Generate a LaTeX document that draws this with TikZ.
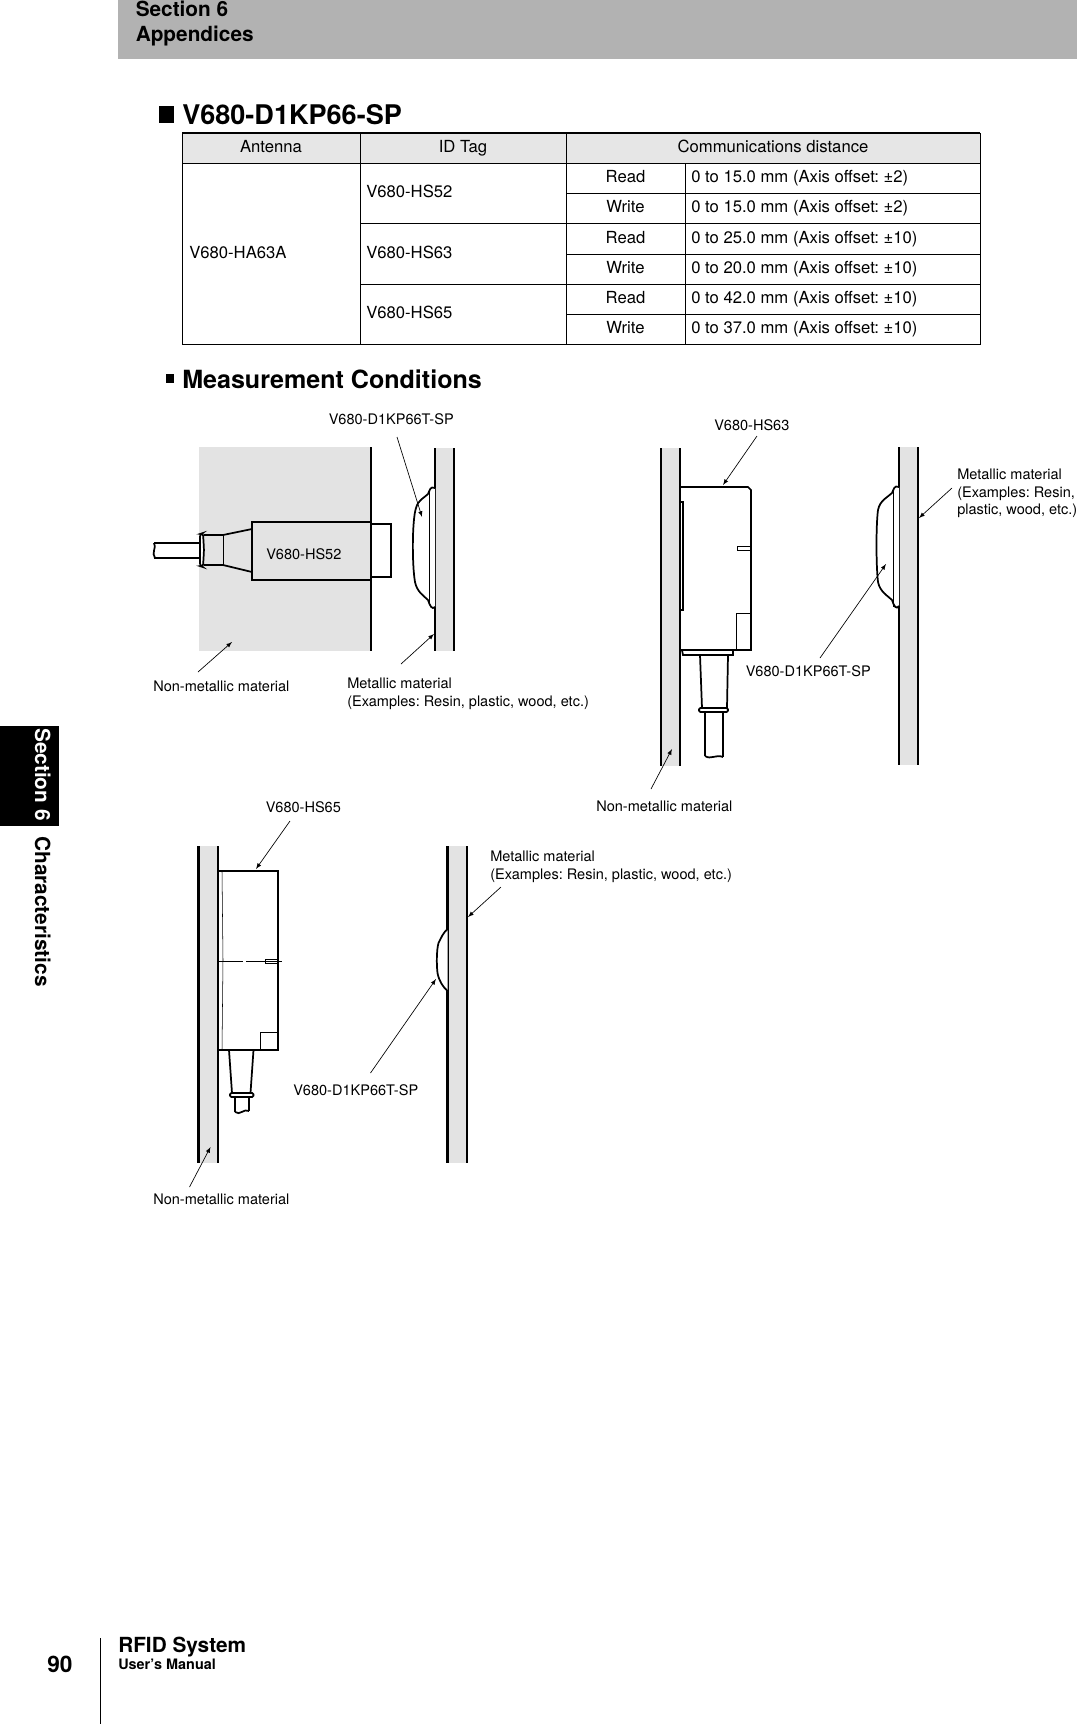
\documentclass[tikz,border=0pt]{standalone}
\usepackage{fontspec}
\setmainfont{TeX Gyre Heros}
\usetikzlibrary{arrows}
\definecolor{bandgray}{HTML}{B2B2B2}
\definecolor{cellgray}{HTML}{E6E6E6}
\definecolor{plategray}{HTML}{E3E3E3}
\tikzstyle{partlabel}=[inner sep=0pt,anchor=base west,font=\fontsize{10.9}{13}\selectfont]
\tikzstyle{longlabel}=[inner sep=0pt,anchor=north west,align=left,font=\fontsize{10.9}{13}\selectfont]
\tikzstyle{cell}=[inner sep=0pt,anchor=base west,font=\fontsize{12.5}{15}\selectfont]
\tikzstyle{headcell}=[inner sep=0pt,anchor=base,font=\fontsize{12.5}{15}\selectfont]
\tikzstyle{heading}=[inner sep=0pt,anchor=base west,font=\fontsize{20.3}{24}\selectfont\bfseries]
\tikzstyle{boldtext}=[inner sep=0pt,font=\fontsize{15.6}{18}\selectfont\bfseries]
\tikzstyle{tablerule} = [draw,line width=0.55pt]
\tikzstyle{heavy} = [draw,line width=1.7pt]
\tikzstyle{contour} = [draw,line width=1.3pt]
\tikzstyle{fine} = [draw,line width=0.4pt]
\tikzstyle{leader} = [draw,line width=0.5pt,-latex]

\begin{document}
\frenchspacing
\begin{tikzpicture}[x=0.75pt,y=-0.75pt]
    \useasboundingbox (0,0) rectangle (1077,1724);

    % page furniture
    \fill[bandgray] (118,0) rectangle (1077,59);
    \fill[black] (0,726) rectangle (59,826);
    \draw[line width=0.7pt] (100,1638) -- (100,1724);
    \node[boldtext,anchor=base west] (section) at (135.5,16) {Section 6};
    \node[boldtext,anchor=base west] (appendices) at (135.5,41) {Appendices};
    \node[boldtext,anchor=base west,rotate=-90,text=white] (tabsection) at (35,728) {Section 6};
    \node[boldtext,anchor=base west,rotate=-90] (tabchar) at (35,836) {Characteristics};
    \node[boldtext,anchor=base west,font=\fontsize{17}{20}\selectfont\bfseries] (pagenum) at (47,1672) {90};
    \node[boldtext,anchor=base west] (rfid) at (118,1652) {RFID System};
    \node[boldtext,anchor=base west,font=\fontsize{10.8}{13}\selectfont\bfseries] (manual) at (118,1669) {User's Manual};

    % headings
    \fill[black] (159,106) rectangle (174,123);
    \fill[black] (166,374) rectangle (174,383);
    \node[heading] (title) at (182,124) {V680-D1KP66-SP};
    \node[heading,font=\fontsize{18.8}{22}\selectfont\bfseries] (conditions) at (182,388) {Measurement Conditions};

    % table
    \fill[cellgray] (182,133) rectangle (980,163);
    \path[tablerule] (182,163) rectangle (980,344);
    \path[draw,line width=1.1pt] (182,133) -- (980,133);
    \foreach \xpos in {182,360,566,980}
        \path[tablerule] (\xpos,133) -- (\xpos,344);
    \path[tablerule] (685.5,163) -- (685.5,344);
    \foreach \ypos in {223,284}
        \path[tablerule] (360,\ypos) -- (980,\ypos);
    \foreach \ypos in {193,254,314}
        \path[tablerule] (566,\ypos) -- (980,\ypos);
    \foreach \name/\xpos/\txt in {hant/271/Antenna, hid/463/ID Tag, hdist/773/Communications distance}
        \node[headcell] (\name) at (\xpos,152) {\txt};
    \node[cell] (antenna) at (189,258) {V680-HA63A};
    \foreach \name/\ypos/\txt in {tag1/197/V680-HS52, tag2/258/V680-HS63, tag3/318/V680-HS65}
        \node[cell] (\name) at (366,\ypos) {\txt};
    \foreach \name/\ypos/\mode/\txt in {r1/182/Read/0 to 15.0 mm (Axis offset: ±2), r2/212/Write/0 to 15.0 mm (Axis offset: ±2), r3/243/Read/0 to 25.0 mm (Axis offset: ±10), r4/273/Write/0 to 20.0 mm (Axis offset: ±10), r5/303/Read/0 to 42.0 mm (Axis offset: ±10), r6/333/Write/0 to 37.0 mm (Axis offset: ±10)} {
        \node[headcell] (\name mode) at (625.5,\ypos) {\mode};
        \node[cell] (\name) at (691,\ypos) {\txt};
    }

    % plates
    \fill[plategray] (199,447) rectangle (371,651);
    \path[heavy] (371,447) -- (371,651);
    \foreach \xa/\xb/\ya/\yb in {435/454/448/651, 661/680/448/766, 899/918/447/765, 198.5/218/846/1163, 447.5/467/846/1163} {
        \fill[plategray] (\xa,\ya) rectangle (\xb,\yb);
        \path[heavy] (\xa,\ya) -- (\xa,\yb);
        \path[heavy] (\xb,\ya) -- (\xb,\yb);
    }

    % HS52 sensor
    \path[contour] (371,524) -- (391,524) -- (391,577) -- (371,577);
    \path[heavy] (252,522) rectangle (371,580);
    \path[contour] (252,529) -- (223,535) -- (204,535);
    \path[contour] (252,572) -- (223,565) -- (204,565);
    \path[fine] (223,535) -- (223,565);
    \path[contour] (154,543) -- (200,543);
    \path[contour] (154,558) -- (200,558);
    \path[contour] (154,543) .. controls (157,547) and (151,553) .. (155,558);
    \path[contour,fill=white,rounded corners=2pt] (200,534) -- (203,533) -- (204,550) -- (203,567) -- (200,566) -- cycle;

    % HS63 sensor
    \path[contour] (680,487) -- (748,487) -- (751,490) -- (751,650) -- (680,650);
    \path[contour] (680,502) -- (683,502) -- (683,610) -- (680,610);
    \path[fine] (751,546) -- (737,546) -- (737,550) -- (751,550);
    \path[fine] (751,613) -- (736,613) -- (736,650);
    \path[contour] (682,650) -- (683,655) -- (733,655) -- (733,650);
    \path[contour] (700,655) -- (702,708);
    \path[contour] (728,655) -- (727,708);
    \path[contour,rounded corners=1pt] (699,708) rectangle (728,712);
    \path[contour] (705,712) -- (705,756);
    \path[contour] (723,712) -- (723,757);
    \path[contour] (705,756) .. controls (711,760) and (716,754) .. (723,757);

    % HS65 sensor
    \path[contour] (218,871) -- (278,871) -- (278,1050) -- (218,1050);
    \path[fine] (222,871) -- (223,960) -- (222,1050);
    \path[fine] (218,961) -- (243,961);
    \path[fine] (246,961) -- (282,961);
    \path[fine] (265,959) rectangle (277.5,963);
    \path[fine] (278,1032) -- (260,1032) -- (260,1050);
    \path[contour] (229,1050) -- (232,1093);
    \path[contour] (253.5,1050) -- (250.5,1093);
    \path[contour,rounded corners=1pt] (230,1093) rectangle (253.5,1097);
    \path[contour] (235,1097) -- (235,1112);
    \path[contour] (249,1097) -- (249,1111);
    \path[contour] (235,1112) .. controls (240,1116) and (244,1108) .. (249,1111);

    % tags
    \path[contour,fill=white] (435,488) .. controls (430,486) and (430,490) .. (428,494) .. controls (424,498) and (418,500) .. (416,508) .. controls (412,520) and (412,565) .. (415,582) .. controls (417,592) and (424,596) .. (428,600) .. controls (430,606) and (432,610) .. (435,607);
    \path[fine] (429,492) -- (429,605);
    \path[contour,fill=white] (899,487) .. controls (894,485) and (894,489) .. (892,493) .. controls (888,497) and (880,500) .. (878,510) .. controls (876,525) and (876,565) .. (878,582) .. controls (880,592) and (888,596) .. (892,600) .. controls (894,606) and (896,610) .. (899,606);
    \path[fine] (893,489) -- (893,607);
    \path[contour,fill=white] (447.5,929) .. controls (443,933) and (441,938) .. (438.5,943) .. controls (436.5,950) and (436.5,965) .. (437.5,973) .. controls (439,981) and (443,987) .. (447.5,991);

    % labels
    \node[partlabel] (sensorA) at (266,559) {V680-HS52};
    \node[partlabel] (tagA) at (328.5,424) {V680-D1KP66T-SP};
    \node[partlabel] (nonA) at (153,691) {Non-metallic material};
    \node[longlabel] (metalA) at (347,678) {Metallic material\\(Examples: Resin, plastic, wood, etc.)};
    \node[partlabel] (sensorB) at (714,430) {V680-HS63};
    \node[partlabel] (tagB) at (745.5,676) {V680-D1KP66T-SP};
    \node[partlabel] (nonB) at (596,811) {Non-metallic material};
    \node[longlabel] (metalB) at (957,469) {Metallic material\\(Examples: Resin,\\plastic, wood, etc.)};
    \node[partlabel] (sensorC) at (265.5,812) {V680-HS65};
    \node[partlabel] (tagC) at (293,1095.5) {V680-D1KP66T-SP};
    \node[partlabel] (nonC) at (153,1204.5) {Non-metallic material};
    \node[longlabel] (metalC) at (490,851) {Metallic material\\(Examples: Resin, plastic, wood, etc.)};

    % leader ends
    \foreach \name/\xpos/\ypos in {a1/397/437, a2/422/517, a3/401/664, a4/434/634, a5/198/672, a6/232/642, b1/757/436, b2/723/485, b3/952/488, b4/919/518, b5/820/658, b6/886/564, b7/651/789, b8/672/749, c1/290/821, c2/256/869, c3/501/887, c4/468/917, c5/370.5/1073, c6/436/979, c7/189.5/1187, c8/210.5/1147}
        \coordinate (\name) at (\xpos,\ypos);

    \foreach \source/ \dest in {a1/a2, a3/a4, a5/a6, b1/b2, b3/b4, b5/b6, b7/b8, c1/c2, c3/c4, c5/c6, c7/c8}
        \path[leader] (\source) -- (\dest);

\end{tikzpicture}
\end{document}
